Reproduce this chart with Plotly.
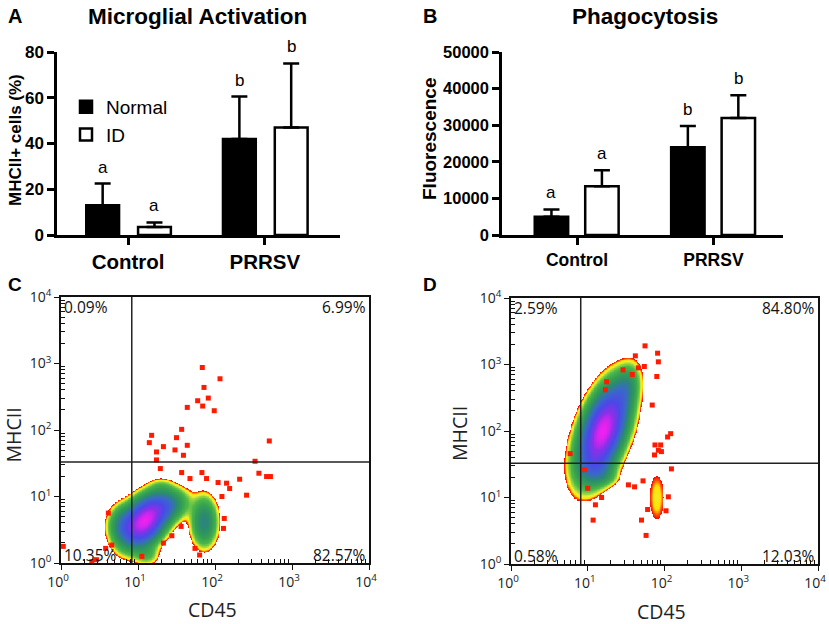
import numpy as np
import plotly.graph_objects as go

# ---------------- data ----------------
groups = ["Control", "PRRSV"]

# Panel A: Microglial activation (% MHCII+ cells)
act_normal = [13.0, 42.0]
act_normal_top = [22.5, 60.5]
act_id = [3.5, 47.0]
act_id_top = [5.5, 75.0]
act_letters_normal = ["a", "b"]
act_letters_id = ["a", "b"]

# Panel B: Phagocytosis (fluorescence)
phag_normal = [5000, 24000]
phag_normal_top = [7000, 29800]
phag_id = [13300, 32000]
phag_id_top = [17700, 38200]
phag_letters_normal = ["a", "b"]
phag_letters_id = ["a", "b"]

# Flow cytometry quadrant gates (CD45, MHCII)
gate_c = [8.3, 33.0]
gate_d = [8.1, 32.7]
c_pct = ["0.09%", "6.99%", "10.35%", "82.57%"]   # UL, UR, LL, LR
d_pct = ["2.59%", "84.80%", "0.58%", "12.03%"]

# cell populations in log10 units: cx, cy, sx, sy, rho, weight
c_pops_cx = [1.08, 1.36, 0.80, 1.86, 1.12, 1.30]
c_pops_cy = [0.62, 0.86, 0.58, 0.62, 0.12, 1.15]
c_pops_sx = [0.17, 0.17, 0.11, 0.10, 0.10, 0.10]
c_pops_sy = [0.22, 0.15, 0.17, 0.22, 0.10, 0.08]
c_pops_rho = [0.35, 0.2, 0.0, 0.0, 0.0, 0.0]
c_pops_w = [1.0, 0.30, 0.22, 0.28, 0.08, 0.045]

d_pops_cx = [1.20, 1.50, 1.12, 1.90, 1.22]
d_pops_cy = [2.00, 2.65, 1.45, 1.00, 1.30]
d_pops_sx = [0.19, 0.10, 0.13, 0.10, 0.12]
d_pops_sy = [0.40, 0.20, 0.14, 0.36, 0.08]
d_pops_rho = [0.50, 0.3, 0.0, 0.0, 0.0]
d_pops_w = [1.0, 0.15, 0.12, 0.045, 0.05]

# scattered events (log10 CD45, log10 MHCII)
c_dots_x = [1.835, 2.065, 1.857, 1.913, 1.775, 1.84, 1.99, 1.64, 1.567, 1.177, 1.50, 1.64,
            1.147, 1.33, 1.24, 1.48, 1.59, 2.705, 2.52, 2.57, 2.67, 2.72, 2.32, 2.41, 1.83,
            1.567, 1.675, 2.04, 2.15, 2.09, 2.19, 1.44, 1.56, 1.33, 1.05, 0.615, 0.66, 0.46,
            1.80, 1.74, 2.11, 2.12, 1.89, 1.29, 1.24, 0.58, 0.03, 0.4]
c_dots_y = [2.94, 2.77, 2.64, 2.48, 2.44, 2.36, 2.29, 2.34, 2.01, 1.92, 1.885, 1.77,
            1.81, 1.75, 1.67, 1.70, 1.62, 1.835, 1.53, 1.35, 1.30, 1.30, 1.26, 1.02, 1.36,
            1.36, 1.27, 1.21, 1.20, 1.00, 1.12, 0.41, 0.55, 0.30, 0.10, 0.75, 0.27, 0.05,
            0.12, 0.22, 0.52, 0.67, 1.27, 1.42, 1.55, 0.22, 0.25, 0.02]
d_dots_x = [1.746, 1.91, 1.92, 1.737, 1.46, 1.62, 1.246, 1.23, 1.90, 1.84, 2.08, 2.04,
            1.876, 1.95, 1.92, 1.96, 1.87, 2.09, 1.61, 1.53, 1.00, 1.18, 1.10, 1.07, 1.76,
            2.05, 1.70, 0.77, 0.96, 1.66, 1.58, 1.72, 1.78, 2.02]
d_dots_y = [3.28, 3.17, 3.04, 2.97, 2.92, 3.13, 2.74, 2.62, 2.82, 2.39, 1.96, 1.91,
            1.79, 1.79, 1.71, 1.69, 1.64, 1.43, 1.16, 1.19, 1.14, 1.00, 0.89, 0.66, 0.43,
            1.01, 0.66, 1.66, 1.42, 2.95, 2.85, 1.25, 0.82, 0.80]

# ---------------- helpers ----------------
grid = np.linspace(0, 4, 401)
GX, GY = np.meshgrid(grid, grid)


def density(cx, cy, sx, sy, rho, w, thr=0.03):
    d = np.zeros_like(GX)
    for a, b, s1, s2, r, ww in zip(cx, cy, sx, sy, rho, w):
        dx = (GX - a) / s1
        dy = (GY - b) / s2
        q = (dx * dx - 2 * r * dx * dy + dy * dy) / (1 - r * r)
        d += ww * np.exp(-0.5 * q)
    d = d / d.max()
    c = np.log(np.maximum(d, 1e-12) / thr) / np.log(1 / thr)
    c[d < thr] = np.nan
    return c


flow_scale = [
    [0.0, "#ff0000"], [0.04, "#ff5000"], [0.08, "#ffe000"], [0.14, "#f0f030"],
    [0.20, "#a0d840"], [0.30, "#4cb848"], [0.45, "#34a050"], [0.60, "#2a8a70"],
    [0.72, "#3a68c8"], [0.84, "#4a48e8"], [0.93, "#8a30e8"], [1.0, "#f020f0"],
]

fig = go.Figure()

# ---------------- Panel A ----------------
W_A = 0.24
off_a = [-0.306, 0.073]
for vals, tops, name, fill, off in [
    (act_normal, act_normal_top, "Normal", "black", off_a[0]),
    (act_id, act_id_top, "ID", "white", off_a[1]),
]:
    fig.add_trace(go.Bar(
        x=[0, 1], y=vals, width=W_A, offset=off, name=name,
        marker=dict(color=fill, line=dict(color="black", width=2.5)),
        error_y=dict(type="data", symmetric=False,
                     array=[t - v for t, v in zip(tops, vals)], arrayminus=[0, 0],
                     thickness=2.5, width=8, color="black"),
        xaxis="x", yaxis="y", hoverinfo="skip"))

# ---------------- Panel B ----------------
W_B = 0.245
off_b = [-0.31, 0.06]
for vals, tops, name, fill, off in [
    (phag_normal, phag_normal_top, "Normal", "black", off_b[0]),
    (phag_id, phag_id_top, "ID", "white", off_b[1]),
]:
    fig.add_trace(go.Bar(
        x=[0, 1], y=vals, width=W_B, offset=off, name=name, showlegend=False,
        marker=dict(color=fill, line=dict(color="black", width=2.5)),
        error_y=dict(type="data", symmetric=False,
                     array=[t - v for t, v in zip(tops, vals)], arrayminus=[0, 0],
                     thickness=2.5, width=8, color="black"),
        xaxis="x2", yaxis="y2", hoverinfo="skip"))

# ---------------- Panels C & D ----------------
zc = density(c_pops_cx, c_pops_cy, c_pops_sx, c_pops_sy, c_pops_rho, c_pops_w)
zd = density(d_pops_cx, d_pops_cy, d_pops_sx, d_pops_sy, d_pops_rho, d_pops_w)
for z, xa, ya, dx, dy in [(zc, "x3", "y3", c_dots_x, c_dots_y),
                          (zd, "x4", "y4", d_dots_x, d_dots_y)]:
    fig.add_trace(go.Heatmap(x=grid, y=grid, z=z, colorscale=flow_scale, zmin=0, zmax=1,
                             showscale=False, hoverinfo="skip", xaxis=xa, yaxis=ya))
    fig.add_trace(go.Scatter(x=dx, y=dy, mode="markers", showlegend=False,
                             marker=dict(symbol="square", size=5, color="#ff1a00",
                                         line=dict(width=0)),
                             xaxis=xa, yaxis=ya, hoverinfo="skip"))

# ---------------- axes ----------------
bar_font = "Liberation Sans, Arial, sans-serif"
flow_font = "Open Sans"

common_bar_y = dict(showline=True, linecolor="black", linewidth=2.5, ticks="outside",
                    ticklen=7, tickwidth=2.5, tickcolor="black", showgrid=False,
                    zeroline=False, automargin=False)
common_bar_x = dict(showline=True, linecolor="black", linewidth=2.5, ticks="outside",
                    ticklen=7, tickwidth=2.5, tickcolor="black", showgrid=False,
                    zeroline=False, tickvals=[0, 1], ticktext=groups, automargin=False)

minor_vals = [np.log10(k * 10 ** d) for d in range(4) for k in range(2, 10)]
log_ticktext = ["10<sup>%d</sup>" % i for i in range(5)]
common_flow = dict(range=[0, 4], tickvals=[0, 1, 2, 3, 4], ticktext=log_ticktext,
                   showline=True, mirror=True, linecolor="#111", linewidth=1.5,
                   ticks="outside", ticklen=5, tickwidth=1.2, tickcolor="#111",
                   showgrid=False, zeroline=False, automargin=False,
                   tickfont=dict(family=flow_font, size=14, color="#222"),
                   minor=dict(tickmode="array", tickvals=minor_vals, ticks="inside",
                              ticklen=4, tickwidth=1, tickcolor="#111"))

fig.update_layout(
    width=829, height=624, margin=dict(l=0, r=0, t=0, b=0, autoexpand=False),
    paper_bgcolor="white", plot_bgcolor="white", barmode="overlay",
    xaxis=dict(domain=[57 / 829, 340 / 829], range=[-0.52, 1.55], anchor="y",
               tickfont=dict(family=bar_font, size=20.5, color="black", weight="bold"),
               **common_bar_x),
    yaxis=dict(domain=[1 - 235 / 624, 1 - 52 / 624], range=[0, 80], anchor="x",
               tickvals=[0, 20, 40, 60, 80],
               tickfont=dict(family=bar_font, size=17, color="black", weight="bold"),
               **common_bar_y),
    xaxis2=dict(domain=[502 / 829, 783 / 829], range=[-0.55, 1.51], anchor="y2",
                tickfont=dict(family=bar_font, size=17.5, color="black", weight="bold"),
                **common_bar_x),
    yaxis2=dict(domain=[1 - 235 / 624, 1 - 52 / 624], range=[0, 50000], anchor="x2",
                tickvals=[0, 10000, 20000, 30000, 40000, 50000],
                ticktext=["0", "10000", "20000", "30000", "40000", "50000"],
                tickfont=dict(family=bar_font, size=16.5, color="black", weight="bold"),
                **common_bar_y),
    xaxis3=dict(domain=[61 / 829, 369 / 829], anchor="y3", ticklabelshift=-3, **common_flow),
    yaxis3=dict(domain=[1 - 563 / 624, 1 - 297 / 624], anchor="x3", **common_flow),
    xaxis4=dict(domain=[511 / 829, 818 / 829], anchor="y4", ticklabelshift=-3, **common_flow),
    yaxis4=dict(domain=[1 - 564 / 624, 1 - 298 / 624], anchor="x4", **common_flow),
    legend=dict(x=66 / 829, y=1 - 88 / 624, xanchor="left", yanchor="top",
                bgcolor="rgba(0,0,0,0)", font=dict(family=bar_font, size=19, color="black"),
                itemwidth=30, tracegroupgap=0),
)

# quadrant gates
for (gx, gy), xa, ya in [(gate_c, "x3", "y3"), (gate_d, "x4", "y4")]:
    lx, ly = np.log10(gx), np.log10(gy)
    fig.add_shape(type="line", xref=xa, yref=ya, x0=lx, x1=lx, y0=0, y1=4,
                  line=dict(color="#222", width=1.5))
    fig.add_shape(type="line", xref=xa, yref=ya, x0=0, x1=4, y0=ly, y1=ly,
                  line=dict(color="#222", width=1.5))

ann = []
# significance letters
for xa, ya, vals_n, vals_i, let_n, let_i, offs, w in [
    ("x", "y", act_normal_top, act_id_top, act_letters_normal, act_letters_id, off_a, W_A),
    ("x2", "y2", phag_normal_top, phag_id_top, phag_letters_normal, phag_letters_id, off_b, W_B),
]:
    for i in range(2):
        for top, let, off in [(vals_n[i], let_n[i], offs[0]), (vals_i[i], let_i[i], offs[1])]:
            ann.append(dict(xref=xa, yref=ya, x=i + off + w / 2, y=top, text=let,
                            showarrow=False, yanchor="bottom", yshift=5,
                            font=dict(family=bar_font, size=17, color="black")))

# quadrant percentages
for pcts, xa in [(c_pct, "x3"), (d_pct, "x4")]:
    pos = [(0.004, 0.962, "left"), (0.996, 0.962, "right"),
           (0.004, 0.03, "left"), (0.996, 0.03, "right")]
    for t, (px, py, xan) in zip(pcts, pos):
        ann.append(dict(xref=xa + " domain", yref=xa.replace("x", "y") + " domain",
                        x=px, y=py, text=t, showarrow=False, xanchor=xan, yanchor="middle",
                        font=dict(family=flow_font, size=15.5, color="#111")))

# axis titles
for txt, x, y, ang, fam, size, bold in [
    ("MHCII+ cells (%)", 15, 140, -90, bar_font, 17, True),
    ("Fluorescence", 429, 139, -90, bar_font, 19, True),
    ("MHCII", 12.5, 435, -90, flow_font, 19.5, False),
    ("CD45", 212, 609, 0, flow_font, 19.5, False),
    ("MHCII", 459, 433, -90, flow_font, 19.5, False),
    ("CD45", 661, 611, 0, flow_font, 19.5, False),
]:
    ann.append(dict(xref="paper", yref="paper", x=x / 829, y=1 - y / 624, text=txt,
                    textangle=ang, showarrow=False, xanchor="center", yanchor="middle",
                    borderpad=0,
                    font=dict(family=fam, size=size, color="black" if bold else "#222",
                              weight="bold" if bold else "normal")))

# titles and panel letters
for txt, x, y, xan, size in [
    ("Microglial Activation", 197 / 829, 1 - 16 / 624, "center", 22.5),
    ("Phagocytosis", 645 / 829, 1 - 16 / 624, "center", 22.5),
    ("A", 6 / 829, 1 - 16 / 624, "left", 20),
    ("B", 421 / 829, 1 - 16 / 624, "left", 20),
    ("C", 6 / 829, 1 - 285 / 624, "left", 19),
    ("D", 421 / 829, 1 - 285 / 624, "left", 19),
]:
    ann.append(dict(xref="paper", yref="paper", x=x, y=y, text=txt, showarrow=False,
                    xanchor=xan, yanchor="middle",
                    font=dict(family=bar_font, size=size, color="black", weight="bold")))

fig.update_layout(annotations=ann)
fig.write_html("out.html", config={"displayModeBar": False},
               post_script="document.body.style.margin='0px';document.body.style.padding='0px';")
